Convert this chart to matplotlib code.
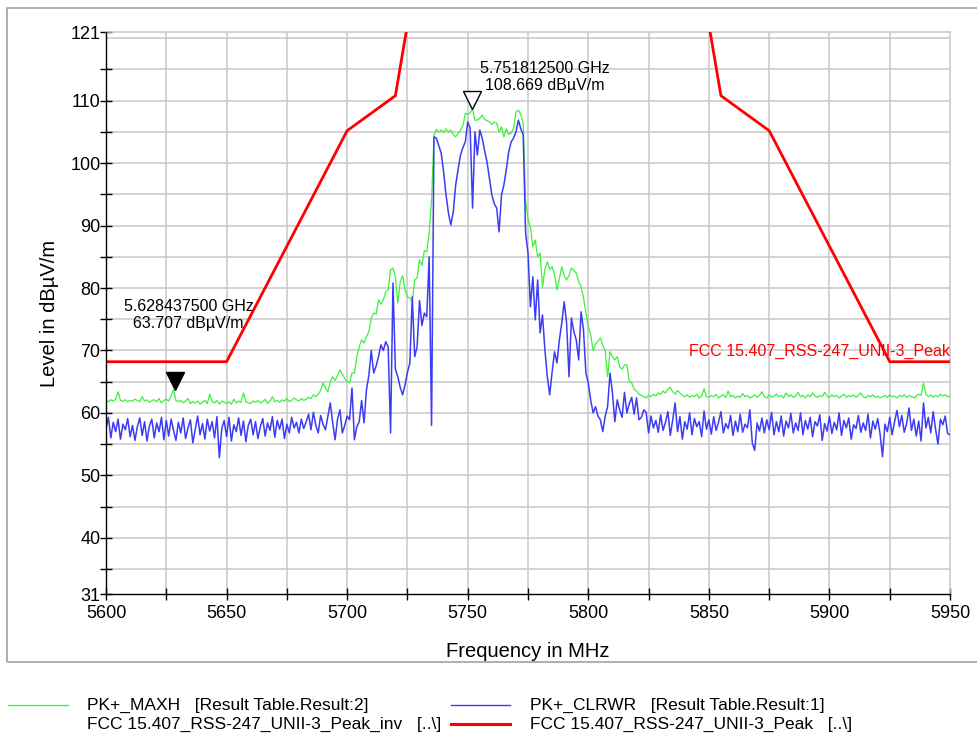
"""Spectrum plot: PK+ MAXH / CLRWR traces against the FCC 15.407 UNII-3 peak limit."""
import numpy as np
import matplotlib
matplotlib.use("Agg")
import matplotlib.pyplot as plt
from matplotlib.lines import Line2D
from matplotlib.patches import Rectangle
from matplotlib.transforms import offset_copy, blended_transform_factory

# ---- data ----
f_start = 5600
f_stop = 5950
freq = np.arange(f_start, f_stop + 1, 1.0)   # MHz, 1 MHz steps

maxh = [
    62.0, 61.8, 62.1, 61.9, 62.2, 63.4, 62.0, 61.9, 62.1, 61.8,
    62.0, 61.9, 62.2, 62.0, 61.8, 62.6, 61.9, 62.1, 61.7, 62.0,
    62.1, 61.8, 62.3, 61.6, 62.0, 62.2, 61.9, 62.8, 63.7, 62.0,
    61.8, 62.0, 61.6, 61.9, 62.3, 61.5, 61.8, 61.6, 61.9, 61.4,
    61.7, 62.0, 61.5, 63.0, 61.8, 61.6, 62.0, 61.4, 61.9, 61.7,
    61.5, 61.8, 61.4, 62.2, 61.6, 61.9, 61.7, 63.2, 61.8, 61.6,
    61.5, 61.9, 61.7, 62.0, 61.6, 61.8, 62.2, 61.5, 61.9, 62.6,
    61.8, 62.0, 61.7, 62.1, 61.9, 62.3, 61.8, 62.0, 62.4, 62.1,
    61.9, 62.3, 62.0, 62.2, 62.5, 62.3, 62.9, 62.6, 63.0, 63.6,
    64.8, 64.0, 63.4, 65.0, 65.8, 65.2, 66.0, 66.9, 66.2, 65.5,
    65.0, 64.8, 66.4, 66.4, 69.0, 70.6, 71.7, 71.2, 72.2, 73.0,
    75.2, 76.0, 75.8, 78.1, 77.4, 78.1, 79.4, 79.7, 82.9, 83.2,
    81.8, 77.6, 81.0, 82.0, 79.7, 78.6, 78.4, 77.8, 81.3, 81.6,
    84.5, 83.6, 86.0, 85.8, 88.8, 94.0, 104.5, 105.4, 105.0, 105.3,
    104.9, 105.5, 105.0, 105.3, 104.6, 104.2, 104.8, 105.3, 106.0, 108.0,
    107.8, 108.1, 108.67, 106.9, 106.9, 107.2, 107.7, 107.0, 106.8, 106.6,
    106.2, 106.6, 106.4, 105.0, 105.8, 104.2, 105.5, 104.6, 104.8, 105.6,
    108.2, 108.5, 107.8, 106.4, 94.0, 91.0, 89.8, 86.6, 87.7, 85.0,
    85.6, 80.2, 83.0, 84.2, 83.0, 83.4, 82.2, 79.7, 81.5, 83.4,
    82.0, 81.3, 82.0, 83.2, 82.8, 82.4, 81.0, 80.2, 78.5, 76.0,
    73.8, 72.5, 70.0, 71.0, 71.5, 72.0, 70.8, 70.0, 65.8, 69.8,
    69.0, 68.5, 69.0, 67.4, 67.0, 67.7, 67.7, 65.0, 64.8, 63.8,
    63.5, 63.0, 62.8, 62.6, 62.4, 62.8, 62.6, 63.0, 62.7, 63.2,
    63.0, 63.5, 63.2, 63.8, 64.1, 63.4, 63.0, 63.6, 63.2, 62.8,
    62.6, 62.9, 62.5, 62.8, 62.6, 63.0, 62.4, 62.7, 63.9, 62.6,
    62.5, 62.8, 62.6, 63.0, 62.4, 62.7, 62.9, 62.5, 63.5, 62.6,
    62.8, 62.4, 62.7, 62.5, 63.1, 62.6, 62.8, 62.4, 62.6, 62.9,
    62.5, 62.8, 63.4, 62.6, 62.4, 62.9, 62.5, 62.7, 63.0, 62.6,
    62.8, 62.4, 63.2, 62.6, 62.9, 62.5, 62.7, 63.3, 62.6, 62.8,
    62.4, 62.9, 62.6, 63.2, 62.7, 62.5, 62.8, 62.6, 63.3, 62.7,
    62.5, 62.9, 62.6, 62.8, 62.4, 62.7, 63.0, 62.5, 62.8, 62.6,
    62.9, 62.5, 62.8, 63.2, 62.6, 62.4, 62.8, 62.6, 62.9, 62.5,
    62.7, 62.4, 62.6, 62.8, 62.5, 62.9, 62.6, 62.7, 62.4, 62.8,
    62.6, 62.9, 62.5, 62.8, 62.6, 62.4, 62.7, 63.0, 62.8, 64.8,
    63.0, 62.6, 62.9, 62.5, 62.8, 62.6, 63.0, 62.7, 62.9, 62.6,
    62.8,
]

clrwr = [
    57.5, 59.3, 56.0, 58.5, 57.0, 59.0, 55.8, 58.2, 57.3, 59.1,
    56.2, 58.0, 55.6, 57.8, 59.2, 56.4, 58.6, 55.5, 57.9, 59.0,
    56.0, 58.4, 57.0, 59.3, 55.7, 58.8, 56.3, 59.0, 57.2, 55.6,
    58.5, 56.8, 59.2, 55.9, 57.6, 58.9, 55.2, 57.4, 59.5, 56.5,
    58.3, 55.8, 59.0, 57.1, 58.6, 56.0, 59.4, 52.8, 57.5, 58.8,
    56.2, 59.3, 55.5, 58.1, 57.0, 59.2, 56.4, 58.7, 55.4, 58.0,
    59.0, 56.5, 58.6, 55.9, 57.8, 59.1, 56.3, 58.4, 57.2, 59.4,
    56.1, 58.8, 57.4, 59.0, 55.9, 58.2, 56.8, 59.3, 57.6, 58.5,
    56.8, 59.0, 57.5, 58.6, 59.8, 57.3, 60.1, 58.0, 56.8, 59.6,
    58.2, 57.3, 59.5, 61.6, 58.4, 55.7, 59.0, 60.5, 56.8, 58.0,
    59.5, 58.9, 64.0, 55.7, 57.8, 58.6, 62.0, 58.4, 63.7, 66.0,
    70.0, 66.4, 67.5, 69.0, 70.9, 70.0, 71.4, 70.6, 56.8, 80.8,
    67.0, 65.8, 64.1, 62.9, 64.5, 66.5, 68.0, 78.6, 69.0, 70.6,
    78.0, 74.0, 76.0, 75.4, 85.0, 58.0, 104.2, 104.0, 102.8, 101.6,
    98.6, 94.9, 92.0, 90.1, 92.2, 96.5, 99.0, 101.3, 102.5, 103.4,
    106.6, 105.6, 92.8, 105.0, 101.3, 105.3, 104.0, 102.0, 100.2, 97.6,
    94.9, 93.5, 92.8, 89.0, 94.9, 96.5, 99.0, 101.8, 103.4, 104.0,
    105.0, 106.9, 105.5, 104.5, 88.8, 85.6, 77.0, 81.8, 74.9, 81.3,
    72.8, 75.7, 70.1, 65.8, 62.9, 66.6, 69.8, 68.0, 71.7, 74.4,
    77.8, 74.4, 65.8, 75.2, 73.0, 71.7, 68.5, 76.2, 73.3, 66.4,
    64.8, 62.0, 60.0, 61.0, 59.5, 58.9, 57.0, 59.5, 61.0, 66.4,
    63.2, 58.6, 62.1, 60.5, 59.3, 63.3, 60.0, 61.5, 62.5, 59.8,
    62.4, 58.9, 59.3, 60.5, 60.1, 56.8, 59.5, 57.6, 58.8, 56.9,
    59.7, 57.2, 58.5, 60.2, 56.4, 58.9, 61.6, 57.0, 59.4, 55.8,
    58.6, 57.4, 60.0, 56.5, 59.1, 57.8, 58.6, 56.2, 60.3, 57.4,
    58.9, 56.6, 59.4, 57.2, 58.5, 60.2, 56.8, 58.3, 57.5, 59.6,
    56.4, 58.7, 57.0, 59.8, 56.9, 58.2, 57.6, 60.5, 55.2, 54.0,
    58.4, 57.1, 59.2, 56.8, 58.9, 57.3, 60.1, 56.5, 58.6, 57.0,
    59.5, 56.3, 58.7, 57.6, 59.9, 56.8, 58.4, 57.2, 60.0, 56.5,
    58.8, 57.4, 59.3, 56.2, 58.6, 57.9, 59.7, 55.6, 58.3, 57.1,
    59.4, 56.7, 58.5, 57.3, 60.0, 56.4, 58.8, 57.6, 59.2, 55.8,
    58.1, 57.5, 59.6, 56.9, 58.4, 57.2, 59.8, 56.0, 58.7, 57.4,
    59.1, 56.6, 53.0, 58.2, 57.0, 59.3, 56.5, 58.6, 60.4, 57.8,
    59.6, 56.9, 58.3, 60.8, 57.2, 59.0, 56.3, 58.7, 55.5, 61.6,
    57.6, 59.3, 56.8, 60.2, 57.4, 55.0, 59.0, 58.1, 59.5, 56.7,
    56.5,
]

# FCC 15.407 / RSS-247 UNII-3 peak mask (dBuV/m)
limit_f = [5600, 5650, 5700, 5720, 5725, 5850, 5855, 5875, 5925, 5950]
limit_l = [68.2, 68.2, 105.2, 110.8, 122.2, 122.2, 110.8, 105.2, 68.2, 68.2]

# markers: (freq MHz, level)
mk1 = (5628.4375, 63.707)
mk2 = (5751.8125, 108.669)

legend_names = [
    "PK+_MAXH   [Result Table.Result:2]",
    "PK+_CLRWR   [Result Table.Result:1]",
    "FCC 15.407_RSS-247_UNII-3_Peak_inv   [..\\]",
    "FCC 15.407_RSS-247_UNII-3_Peak   [..\\]",
]

if __name__ == "__main__":
    plt.rcParams['font.family'] = ['Liberation Sans', 'DejaVu Sans']

    fig = plt.figure(figsize=(9.77, 7.36), dpi=100)
    ax = fig.add_axes([0.1085, 0.1929, 0.8639, 0.7636])

    grid_c = '#c8c8c8'
    green = '#3ef03e'
    blue = '#3c3cf5'
    red = '#ff0000'

    # grid drawn by hand (every 25 MHz / 5 dB)
    for gx in range(5625, 5950, 25):
        ax.axvline(gx, color=grid_c, lw=1.1, zorder=0)
    for gy in range(35, 121, 5):
        ax.axhline(gy, color=grid_c, lw=1.1, zorder=0)

    ax.plot(freq, maxh, color=green, lw=0.9, zorder=2)
    ax.plot(freq, clrwr, color=blue, lw=1.1, zorder=3)
    ax.plot(limit_f, limit_l, color=red, lw=2.0, zorder=4)

    ax.set_xlim(f_start, f_stop)
    ax.set_ylim(31, 121)

    ax.set_xticks(range(5600, 5951, 50))
    ax.set_xticks(range(5625, 5950, 50), minor=True)
    ax.set_yticks([31, 40, 50, 60, 70, 80, 90, 100, 110, 121])
    ax.set_yticks(range(35, 120, 10), minor=True)
    ax.tick_params(which='both', direction='inout', length=8, width=1.0,
                   labelsize=13, colors='black')
    ax.tick_params(axis='y', pad=0)
    ax.tick_params(axis='x', pad=4)

    for s in ['top', 'right']:
        ax.spines[s].set_color(grid_c)
        ax.spines[s].set_linewidth(1.1)
    for s in ['left', 'bottom']:
        ax.spines[s].set_color('black')
        ax.spines[s].set_linewidth(1.0)
        ax.spines[s].set_zorder(5)

    ax.set_xlabel('Frequency in MHz', fontsize=14.5, labelpad=14)
    ax.set_ylabel('Level in dBµV/m', fontsize=14.5, labelpad=8)

    # markers, tip sitting on the trace point
    ms = 13
    tr = offset_copy(ax.transData, fig=fig, y=ms / 2, units='points')
    ax.plot(mk1[0], mk1[1], marker='v', ms=ms, color='black', mfc='black',
            transform=tr, zorder=6, clip_on=False)
    ax.plot(mk2[0], mk2[1], marker='v', ms=ms, color='black', mfc='white',
            mew=1.0, transform=tr, zorder=6, clip_on=False)

    ax.annotate('%.9f GHz\n%.3f dBµV/m' % (mk1[0] / 1000, mk1[1]),
                xy=mk1, xytext=(10, 54), textcoords='offset points',
                ha='center', va='center', fontsize=11.5, linespacing=1.15)
    ax.annotate('%.9f GHz\n%.3f dBµV/m' % (mk2[0] / 1000, mk2[1]),
                xy=mk2, xytext=(52, 23), textcoords='offset points',
                ha='center', va='center', fontsize=11.5, linespacing=1.15)

    # limit line label at the right edge
    bt = blended_transform_factory(ax.transAxes, ax.transData)
    ax.text(1.0, 69.8, 'FCC 15.407_RSS-247_UNII-3_Peak', transform=bt,
            ha='right', va='center', color=red, fontsize=11.5, zorder=5)

    # outer frame around the chart area
    fig.add_artist(Rectangle((0.0072, 0.1005), 1.1, 0.8887, transform=fig.transFigure,
                             fill=False, edgecolor='#a8a8a8', lw=1.3))

    # legend drawn below the frame
    row_y = [0.0421, 0.0163]
    fig.add_artist(Line2D([0.0082, 0.0696], [row_y[0]] * 2, color=green, lw=1.0,
                          transform=fig.transFigure))
    fig.add_artist(Line2D([0.4616, 0.522], [row_y[0]] * 2, color=blue, lw=1.0,
                          transform=fig.transFigure))
    fig.add_artist(Line2D([0.4616, 0.522], [row_y[1]] * 2, color=red, lw=2.2,
                          transform=fig.transFigure))
    leg_pos = [(0.089, row_y[0]), (0.5425, row_y[0]), (0.089, row_y[1]), (0.5425, row_y[1])]
    for (lx, ly), name in zip(leg_pos, legend_names):
        fig.text(lx, ly, name, ha='left', va='center', fontsize=12.5)

    plt.savefig('out.png', dpi=100, facecolor='w')
